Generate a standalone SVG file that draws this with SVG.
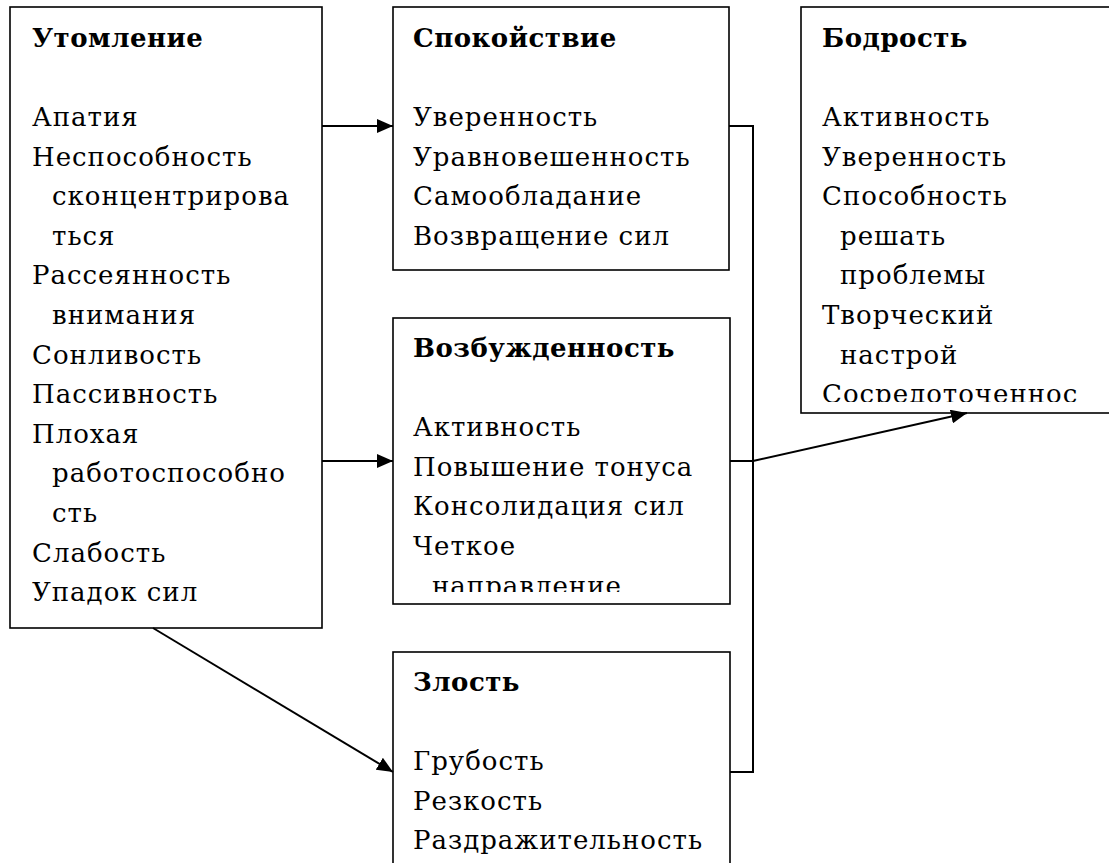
<svg xmlns="http://www.w3.org/2000/svg" width="1109" height="863" viewBox="0 0 1109 863">
<style>
.box{fill:#fff;stroke:#000;stroke-width:1.6}
.t{font-family:"DejaVu Serif","Liberation Serif",serif;font-size:26px;letter-spacing:1px;fill:#000}
.h{font-family:"DejaVu Serif","Liberation Serif",serif;font-size:26px;letter-spacing:0.5px;font-weight:bold;fill:#000}
.c{fill:none;stroke:#000;stroke-width:2}
</style>
<defs>
<marker id="arr" markerUnits="userSpaceOnUse" markerWidth="16" markerHeight="14" refX="16" refY="7" orient="auto">
<path d="M0,0 L16,7 L0,14 z" fill="#000"/>
</marker>
<clipPath id="clipV"><rect x="393" y="318" width="337" height="274"/></clipPath>
<clipPath id="clipB"><rect x="801" y="7" width="320" height="395"/></clipPath>
</defs>
<rect width="1109" height="863" fill="#fff"/>
<g id="utomlenie">
<rect class="box" x="10" y="7" width="312" height="621"/>
<text class="h" x="32" y="47">Утомление</text>
<text class="t" x="32" y="126">Апатия</text>
<text class="t" x="32" y="165.6">Неспособность</text>
<text class="t" x="52" y="205.2">сконцентрирова</text>
<text class="t" x="52" y="244.8">ться</text>
<text class="t" x="32" y="284.4">Рассеянность</text>
<text class="t" x="52" y="324">внимания</text>
<text class="t" x="32" y="363.6">Сонливость</text>
<text class="t" x="32" y="403.2">Пассивность</text>
<text class="t" x="32" y="442.8">Плохая</text>
<text class="t" x="52" y="482.4">работоспособно</text>
<text class="t" x="52" y="522">сть</text>
<text class="t" x="32" y="561.6">Слабость</text>
<text class="t" x="32" y="601.2">Упадок сил</text>
</g>
<g id="spokoistvie">
<rect class="box" x="393" y="7" width="336" height="263"/>
<text class="h" x="413" y="47">Спокойствие</text>
<text class="t" x="413" y="126">Уверенность</text>
<text class="t" x="413" y="165.6">Уравновешенность</text>
<text class="t" x="413" y="205.2">Самообладание</text>
<text class="t" x="413" y="244.8">Возвращение сил</text>
</g>
<g id="vozbuzhdennost">
<rect class="box" x="393" y="318" width="337" height="286"/>
<g clip-path="url(#clipV)">
<text class="h" x="413" y="357">Возбужденность</text>
<text class="t" x="413" y="436.2">Активность</text>
<text class="t" x="413" y="475.8">Повышение тонуса</text>
<text class="t" x="413" y="515.4">Консолидация сил</text>
<text class="t" x="413" y="555">Четкое</text>
<text class="t" x="432" y="594.6">направление</text>
</g>
</g>
<g id="zlost">
<rect class="box" x="393" y="652" width="337" height="230"/>
<text class="h" x="413" y="691">Злость</text>
<text class="t" x="413" y="770.2">Грубость</text>
<text class="t" x="413" y="809.8">Резкость</text>
<text class="t" x="413" y="849.4">Раздражительность</text>
</g>
<g id="bodrost">
<rect class="box" x="801" y="7" width="330" height="406"/>
<g clip-path="url(#clipB)">
<text class="h" x="822" y="47">Бодрость</text>
<text class="t" x="822" y="126">Активность</text>
<text class="t" x="822" y="165.6">Уверенность</text>
<text class="t" x="822" y="205.2">Способность</text>
<text class="t" x="840" y="244.8">решать</text>
<text class="t" x="840" y="284.4">проблемы</text>
<text class="t" x="822" y="324">Творческий</text>
<text class="t" x="840" y="363.6">настрой</text>
<text class="t" x="822" y="403.2">Сосредоточеннос</text>
</g>
</g>
<g id="connectors">
<path class="c" d="M322,126 L393,126" marker-end="url(#arr)"/>
<path class="c" d="M322,461 L393,461" marker-end="url(#arr)"/>
<path class="c" d="M153,628 L393,772" marker-end="url(#arr)"/>
<path class="c" d="M729,126 H753 V772 H730"/>
<path class="c" d="M730,461 H753"/>
<path class="c" d="M753,461 L967,413" marker-end="url(#arr)"/>
</g>
</svg>
